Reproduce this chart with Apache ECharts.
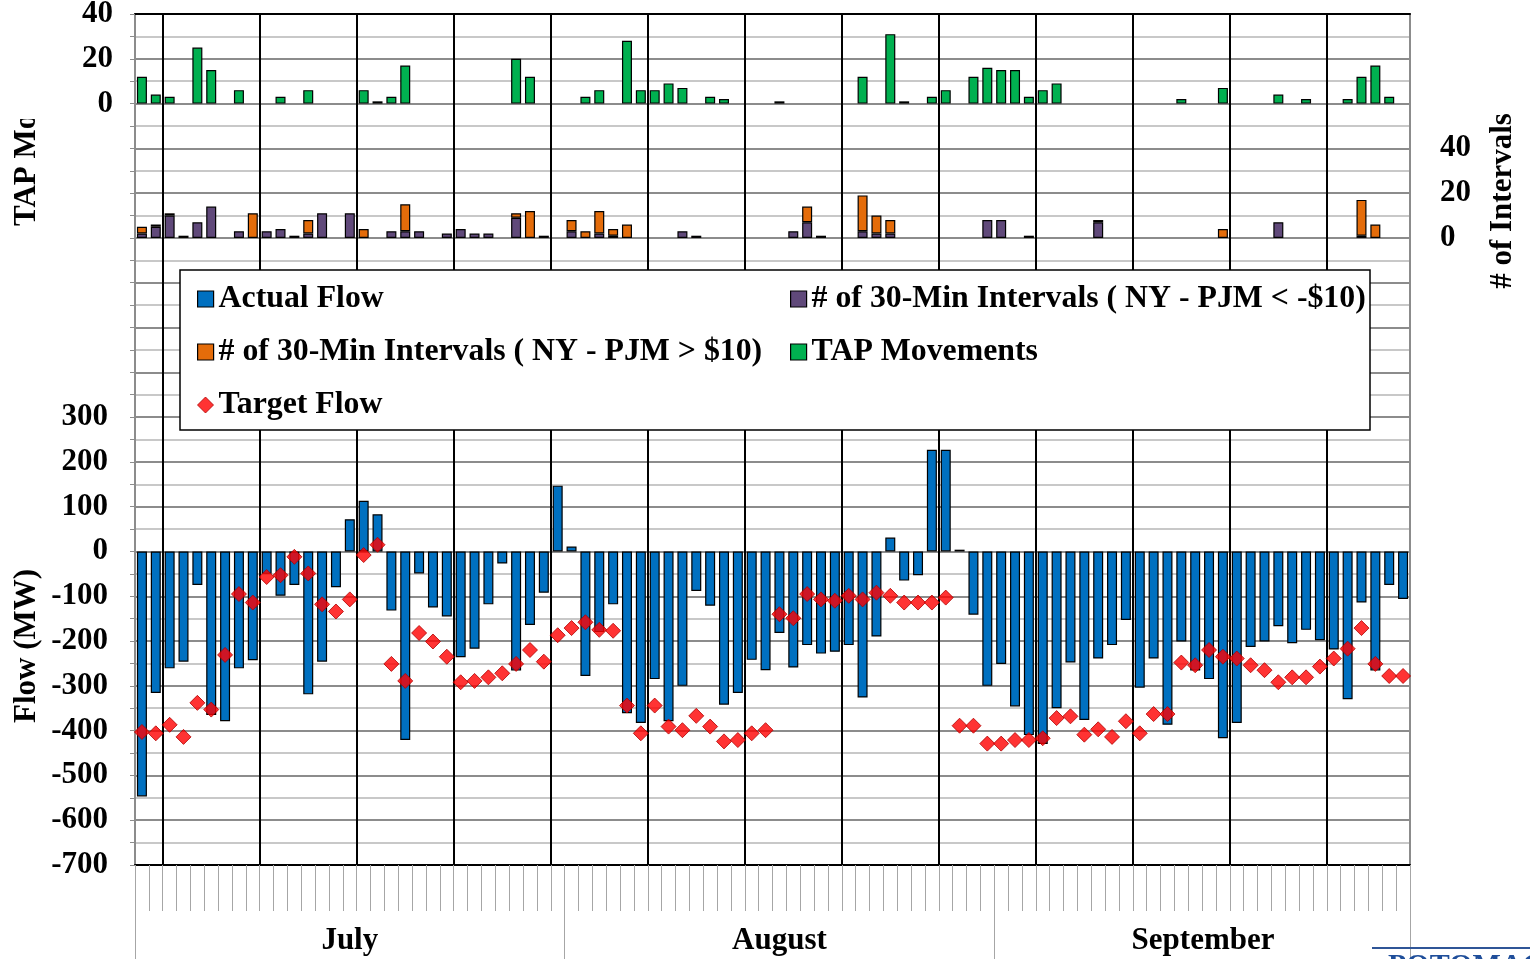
<!DOCTYPE html>
<html>
<head>
<meta charset="utf-8">
<title>NY - PJM Flows</title>
<script src="https://cdn.jsdelivr.net/npm/echarts@6/dist/echarts.min.js"></script>
<style>
  html, body { margin: 0; padding: 0; background: #fff; }
  #chart { width: 1530px; height: 959px; }
</style>
</head>
<body>
<div id="chart"></div>
<script>
// ---- data -------------------------------------------------------------
const months = ['July', 'August', 'September'];
const monthShort = ['Jul', 'Aug', 'Sep'];
const monthLengths = [31, 31, 30];

// daily actual flow (MW)
const actualFlow = [
  -547, -316, -261, -246, -75, -365, -379, -261, -243, -50,
  -99, -75, -319, -246, -80, 72, 113, 83, -132, -421,
  -49, -125, -145, -236, -217, -118, -27, -266, -164, -92,
  147, 11, -278, -180, -118, -361, -383, -285, -379, -300,
  -88, -121, -342, -316, -242, -265, -182, -259, -209, -228,
  -224, -209, -326, -190, 31, -65, -53, 227, 227, 4,
  -141, -300, -251, -346, -410, -430, -350, -248, -376, -239,
  -209, -153, -304, -239, -387, -201, -266, -285, -417, -383,
  -213, -201, -167, -205, -175, -198, -219, -330, -114, -266,
  -75, -106
];

// daily target flow (MW)
const targetFlow = [
  -403, -406, -387, -414, -338, -353, -231, -95, -114, -57,
  -53, -12, -49, -118, -134, -107, -8, 15, -251, -289,
  -182, -201, -235, -292, -289, -281, -272, -251, -220, -246,
  -187, -171, -158, -175, -177, -344, -406, -344, -391, -399,
  -367, -391, -424, -421, -406, -399, -140, -149, -95, -107,
  -110, -99, -107, -92, -99, -114, -114, -114, -103, -389,
  -389, -429, -429, -421, -421, -417, -372, -368, -409, -397,
  -414, -379, -406, -363, -363, -248, -254, -220, -235, -239,
  -254, -265, -292, -281, -281, -257, -239, -217, -171, -251,
  -278, -278
];

// daily TAP movements (null = none)
const tapMoves = [
  12, 4, 3, null, 25, 15, null, 6, null, null,
  3, null, 6, null, null, null, 6, 1, 3, 17,
  null, null, null, null, null, null, null, 20, 12, null,
  null, null, 3, 6, null, 28, 6, 6, 9, 7,
  null, 3, 2, null, null, null, 1, null, null, null,
  null, null, 12, null, 31, 1, null, 3, 6, null,
  12, 16, 15, 15, 3, 6, 9, null, null, null,
  null, null, null, null, null, 2, null, null, 7, null,
  null, null, 4, null, 2, null, null, 2, 12, 17,
  3, null
];

// daily # of 30-min intervals with NY - PJM < -$10
const intervalsBelow = [
  2, 5, 10, null, 7, 14, null, 3, null, 3,
  4, 1, 2, 11, null, 11, null, null, 3, 3,
  3, null, 2, 4, 2, 2, null, 9, null, 1,
  null, 3, null, 2, 1, null, null, null, null, 3,
  1, null, null, null, null, null, null, 3, 7, 1,
  null, null, 3, 2, 2, null, null, null, null, null,
  null, 8, 8, null, null, null, null, null, null, 7,
  null, null, null, null, null, null, null, null, null, null,
  null, null, 7, null, null, null, null, null, 1, null,
  null, null
];

// daily # of 30-min intervals with NY - PJM > $10
const intervalsAbove = [
  3, 1, 1, 1, null, null, null, null, 11, null,
  null, null, 6, null, null, null, 4, null, null, 12,
  null, null, null, null, null, null, null, 2, 12, null,
  null, 5, 3, 10, 3, 6, null, null, null, null,
  null, null, null, null, null, null, null, null, 7, null,
  null, null, 16, 8, 6, null, null, null, null, null,
  null, null, null, null, 1, null, null, null, null, 1,
  null, null, null, null, null, null, null, null, 4, null,
  null, null, null, null, null, null, null, null, 16, 6,
  null, null
];

const flowTicks = { min: -700, max: 1200, step: 100, maxLabel: 300 };
const tapTicks = { min: -340, max: 40, step: 20 };
const intervalTicks = { min: -280, max: 100, step: 20, maxLabel: 40 };

const NAME_FLOW = 'Actual Flow';
const NAME_BELOW = '# of 30-Min Intervals ( NY - PJM < -$10)';
const NAME_ABOVE = '# of 30-Min Intervals ( NY - PJM > $10)';
const NAME_TAP = 'TAP Movements';
const NAME_TARGET = 'Target Flow';

// ---- categories -----------------------------------------------------
const days = [];
const monthStart = [];
const monthLabelIndex = {};
months.forEach(function (m, k) {
  monthStart.push(days.length);
  monthLabelIndex[days.length + Math.floor(monthLengths[k] / 2)] = { name: m, even: monthLengths[k] % 2 === 0 };
  for (let d = 1; d <= monthLengths[k]; d++) days.push(monthShort[k] + ' ' + d);
});
const weekStart = 2; // first weekly divider falls before the 3rd day

// ---- styles ---------------------------------------------------------
const FONT = "'Liberation Serif', 'Times New Roman', serif";
const labelFont = { fontFamily: FONT, fontWeight: 'bold', fontSize: 31, color: '#000' };
const majorGrid = '#8c8c8c';
const minorGrid = '#c8c8c8';
const BAR_W = 10;

function legendAt(name, left, top, icon, extra) {
  const item = Object.assign({ name: name, icon: icon || 'rect' }, extra || {});
  return {
    data: [item], left: left, top: top, padding: 0, itemGap: 0,
    itemWidth: 16, itemHeight: 16, selectedMode: false,
    textStyle: Object.assign({}, labelFont, { fontSize: 31.8, lineHeight: 34 }),
    itemStyle: { borderColor: '#000', borderWidth: 1.2 }
  };
}

const chart = echarts.init(document.getElementById('chart'), null, { renderer: 'canvas' });

const option = {
  animation: false,
  backgroundColor: '#fff',
  grid: { left: 135, right: 120, top: 14, bottom: 94, containLabel: false, outerBoundsMode: 'none' },
  legend: [
    legendAt(NAME_FLOW, 197, 282),
    legendAt(NAME_BELOW, 790, 282),
    legendAt(NAME_ABOVE, 197, 335),
    legendAt(NAME_TAP, 790, 335),
    legendAt(NAME_TARGET, 197, 388, 'diamond', { itemStyle: { borderColor: '#b00000', borderWidth: 1 } })
  ],
  xAxis: [
    { // daily axis with weekly dividers
      type: 'category', data: days, position: 'bottom', boundaryGap: true,
      axisLine: { onZero: false, lineStyle: { color: '#000', width: 2 } },
      axisTick: { show: true, interval: 0, length: 46, lineStyle: { color: '#a6a6a6', width: 1 } },
      axisLabel: { show: false },
      splitLine: {
        show: true,
        interval: function (idx) { return idx >= weekStart && (idx - weekStart) % 7 === 0; },
        lineStyle: { color: '#000', width: 2 }
      }
    },
    { // month level
      type: 'category', data: days, position: 'bottom', boundaryGap: true,
      axisLine: { show: false, onZero: false },
      axisTick: {
        show: true, length: 94,
        interval: function (idx) { return monthStart.indexOf(idx) >= 0; },
        lineStyle: { color: '#a6a6a6', width: 1 }
      },
      axisLabel: Object.assign({
        interval: function (idx) { return monthLabelIndex[idx] !== undefined; },
        formatter: function (v, idx) {
          const m = monthLabelIndex[idx];
          if (!m) return '';
          // an even-length month is centred on a day boundary, half a day to the left
          return m.even ? '{e|' + m.name + '}' : m.name;
        },
        rich: { e: Object.assign({}, labelFont, { padding: [0, 12, 0, 0] }) },
        margin: 60
      }, labelFont),
      splitLine: { show: false }
    },
    { // top frame
      type: 'category', data: days, position: 'top',
      axisLine: { onZero: false, lineStyle: { color: '#000', width: 2 } },
      axisTick: { show: false }, axisLabel: { show: false }, splitLine: { show: false }
    }
  ],
  yAxis: [
    { // Flow (MW)
      type: 'value', position: 'left',
      min: flowTicks.min, max: flowTicks.max, interval: flowTicks.step,
      axisLine: { show: true, lineStyle: { color: majorGrid, width: 2 } },
      axisTick: { show: true, length: 5, lineStyle: { color: majorGrid } },
      minorTick: { show: true, splitNumber: 2, length: 5, lineStyle: { color: majorGrid } },
      axisLabel: Object.assign({
        margin: 27,
        formatter: function (v) { return v <= flowTicks.maxLabel ? String(v) : ''; }
      }, labelFont),
      splitLine: { show: true, lineStyle: { color: majorGrid, width: 2 } },
      minorSplitLine: { show: true, lineStyle: { color: minorGrid, width: 2 } }
    },
    { // TAP movements
      type: 'value', position: 'left',
      min: tapTicks.min, max: tapTicks.max, interval: tapTicks.step,
      axisLine: { show: false }, axisTick: { show: false },
      axisLabel: Object.assign({
        margin: 22,
        formatter: function (v) { return v >= 0 ? String(v) : ''; }
      }, labelFont),
      splitLine: { show: false }
    },
    { // # of intervals
      type: 'value', position: 'right',
      min: intervalTicks.min, max: intervalTicks.max, interval: intervalTicks.step,
      axisLine: { show: true, lineStyle: { color: majorGrid, width: 2 } },
      axisTick: { show: false },
      axisLabel: Object.assign({
        margin: 30,
        formatter: function (v) { return v >= 0 && v <= intervalTicks.maxLabel ? String(v) : ''; }
      }, labelFont),
      splitLine: { show: false }
    }
  ],
  series: [
    {
      name: NAME_FLOW, type: 'bar', xAxisIndex: 0, yAxisIndex: 0,
      barWidth: BAR_W, barGap: '-100%', data: actualFlow,
      itemStyle: { color: '#0070C0', borderColor: '#000', borderWidth: 1.2 }
    },
    {
      name: NAME_BELOW, type: 'bar', xAxisIndex: 0, yAxisIndex: 2, stack: 'intervals',
      barWidth: BAR_W, barGap: '-100%', data: intervalsBelow,
      itemStyle: { color: '#60497A', borderColor: '#000', borderWidth: 1.2 }
    },
    {
      name: NAME_ABOVE, type: 'bar', xAxisIndex: 0, yAxisIndex: 2, stack: 'intervals',
      barWidth: BAR_W, barGap: '-100%', data: intervalsAbove,
      itemStyle: { color: '#E46C0A', borderColor: '#000', borderWidth: 1.2 }
    },
    {
      name: NAME_TAP, type: 'bar', xAxisIndex: 0, yAxisIndex: 1,
      barWidth: BAR_W, barGap: '-100%', data: tapMoves,
      itemStyle: { color: '#00B050', borderColor: '#000', borderWidth: 1.2 }
    },
    {
      name: NAME_TARGET, type: 'scatter', xAxisIndex: 0, yAxisIndex: 0,
      symbol: 'diamond', symbolSize: 15, data: targetFlow, z: 5,
      itemStyle: { color: '#FF0000', borderColor: '#b00000', borderWidth: 1 }
    }
  ],
  graphic: [
    { // legend frame
      type: 'rect', z: 3,
      shape: { x: 180, y: 270, width: 1190, height: 160 },
      style: { fill: '#fff', stroke: '#000', lineWidth: 1.5 }
    },
    {
      type: 'text', x: 27, y: 646, rotation: Math.PI / 2, z: 5,
      style: { text: 'Flow (MW)', align: 'center', verticalAlign: 'middle',
        font: 'bold 31px ' + FONT, fill: '#000' }
    },
    {
      type: 'text', x: 27, y: 226, rotation: Math.PI / 2, z: 5,
      style: { text: 'TAP Movements', align: 'left', verticalAlign: 'middle',
        font: 'bold 31px ' + FONT, fill: '#000' }
    },
    { // panel that hides the upper part of the TAP title
      type: 'rect', z: 10,
      shape: { x: 0, y: 0, width: 52, height: 119 },
      style: { fill: '#fff', stroke: null }
    },
    {
      type: 'text', x: 1503, y: 201, rotation: Math.PI / 2, z: 5,
      style: { text: '# of Intervals', align: 'center', verticalAlign: 'middle',
        font: 'bold 31px ' + FONT, fill: '#000' }
    },
    {
      type: 'line', z: 5,
      shape: { x1: 1372, y1: 948, x2: 1530, y2: 948 },
      style: { stroke: '#2F5597', lineWidth: 2 }
    },
    {
      type: 'text', x: 1388, y: 951, z: 5,
      style: { text: 'POTOMAC ECONOMICS', align: 'left', verticalAlign: 'top',
        font: 'bold 30px ' + FONT, fill: '#1F4E9A' }
    }
  ]
};

chart.setOption(option);
</script>
</body>
</html>
